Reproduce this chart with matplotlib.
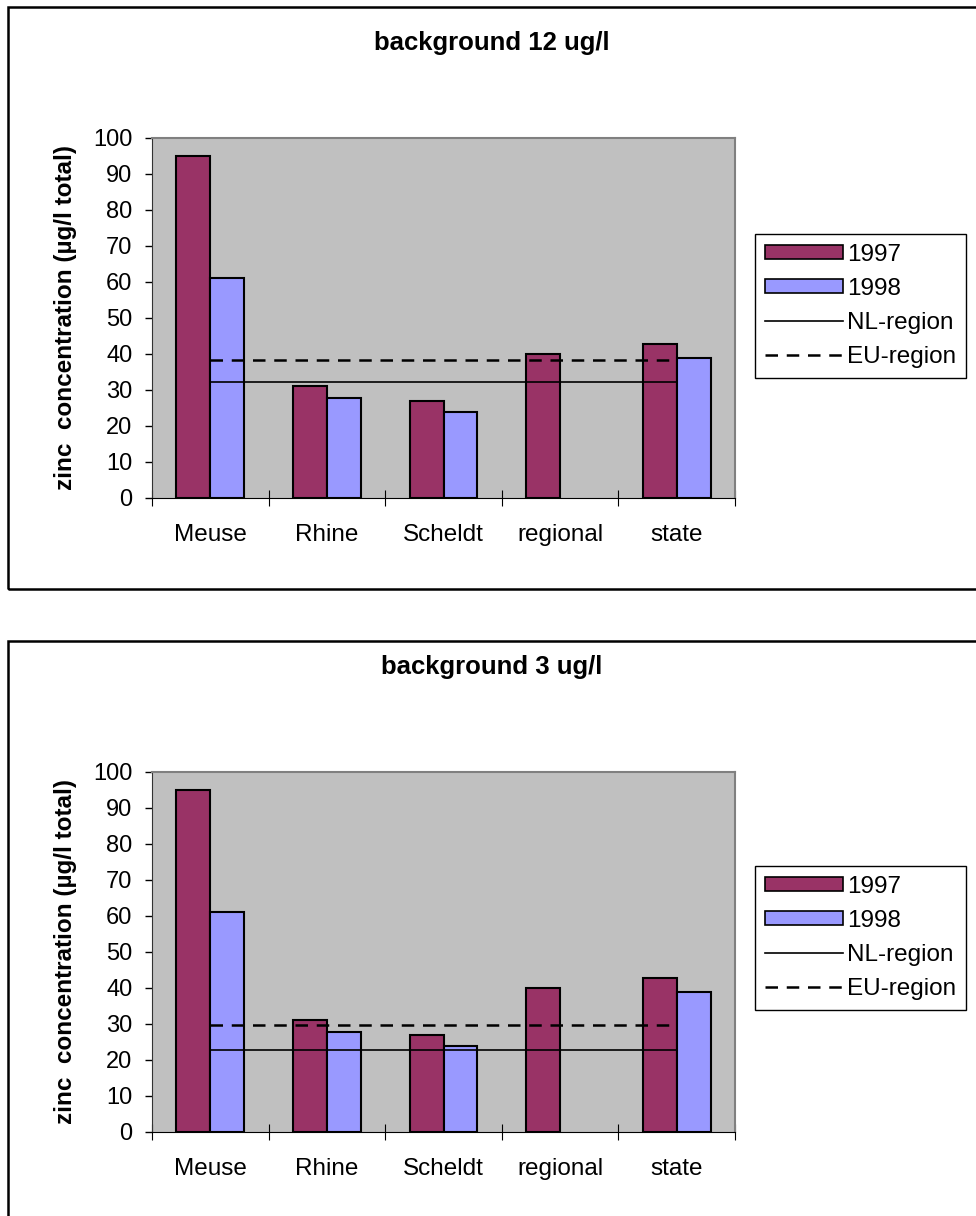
# zinc concentrations per catchment, two background scenarios
import numpy as np
import matplotlib.pyplot as plt
from matplotlib.patches import Rectangle, Patch
from matplotlib.lines import Line2D

plt.rcParams['font.family'] = ['Liberation Sans', 'DejaVu Sans']

# data
categories = ['Meuse', 'Rhine', 'Scheldt', 'regional', 'state']
zinc_1997 = [95, 31, 27, 40, 42.8]
zinc_1998 = [61, 27.8, 23.9, np.nan, 38.8]
titles = ['background 12 ug/l', 'background 3 ug/l']
nl_region = [32.2, 22.8]
eu_region = [38.4, 29.8]

col_1997 = '#993366'
col_1998 = '#9999FF'

fig = plt.figure(figsize=(9.76, 12.16), dpi=100)
W, H = 976, 1216

# outer chart boxes (cut off at right, second one at bottom too)
for top, bottom in [(7, 589), (641, 1230)]:
    fig.patches.append(Rectangle((8 / W, 1 - bottom / H), 1.0, (bottom - top) / H,
                                 transform=fig.transFigure, fill=False,
                                 edgecolor='black', linewidth=1.8, clip_on=False))

ax_boxes = [(152, 138, 735, 498), (152, 772, 735, 1132)]
title_y = [43, 667]
legend_top = [234, 866]

x = np.arange(len(categories))
w = 0.29

for i in range(2):
    l, t, r, b = ax_boxes[i]
    ax = fig.add_axes([l / W, 1 - b / H, (r - l) / W, (b - t) / H])
    ax.set_facecolor('#C0C0C0')

    ax.bar(x - w / 2, zinc_1997, w, color=col_1997, edgecolor='black', linewidth=1.5, zorder=2)
    ax.bar(x + w / 2, zinc_1998, w, color=col_1998, edgecolor='black', linewidth=1.5, zorder=2)
    ax.hlines(nl_region[i], 0, 4, color='black', linewidth=1.2, zorder=3)
    ax.hlines(eu_region[i], 0, 4, color='black', linewidth=1.8, linestyles=(0, (5, 3.5)), zorder=3)

    ax.set_xlim(-0.5, 4.5)
    ax.set_ylim(0, 100)
    ax.set_yticks(range(0, 101, 10))
    ax.tick_params(axis='y', direction='out', length=5, width=1, labelsize=17, pad=9)
    ax.set_xticks(np.arange(-0.5, 5, 1))
    ax.set_xticklabels([])
    ax.set_xticks(x, minor=True)
    ax.set_xticklabels(categories, minor=True)
    ax.tick_params(axis='x', which='major', direction='inout', length=12, width=0.8)
    ax.tick_params(axis='x', which='minor', length=0, labelsize=17.5, pad=19)

    for s in ['top', 'right']:
        ax.spines[s].set_color('#808080')
        ax.spines[s].set_linewidth(1.5)
    ax.spines['left'].set_color('#333333')
    ax.spines['bottom'].set_color('black')

    ax.set_ylabel('zinc  concentration (µg/l total)', fontsize=17.5, fontweight='bold')
    ax.yaxis.set_label_coords((77 - l) / (r - l), 0.5)

    fig.text(492 / W, 1 - title_y[i] / H, titles[i], ha='center', va='center',
             fontsize=18.5, fontweight='bold')

    handles = [Patch(facecolor=col_1997, edgecolor='black', linewidth=1.2),
               Patch(facecolor=col_1998, edgecolor='black', linewidth=1.2),
               Line2D([], [], color='black', linewidth=1.2),
               Line2D([], [], color='black', linewidth=1.8, linestyle=(0, (5, 3.5)))]
    leg = fig.legend(handles, ['1997', '1998', 'NL-region', 'EU-region'],
                     loc='upper left', bbox_to_anchor=(755 / W, 1 - legend_top[i] / H),
                     fontsize=17.5, frameon=True, fancybox=False, edgecolor='black',
                     framealpha=1, handlelength=3.2, handleheight=0.5,
                     handletextpad=0.2, labelspacing=0.5, borderpad=0.4,
                     borderaxespad=0)
    leg.get_frame().set_linewidth(1.0)

fig.savefig('out.png', dpi=100)
